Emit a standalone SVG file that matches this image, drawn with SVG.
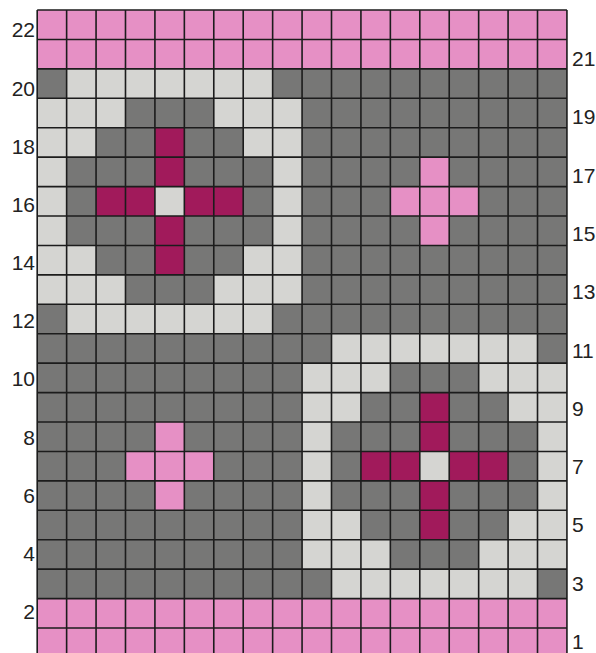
<svg xmlns="http://www.w3.org/2000/svg" xmlns:xlink="http://www.w3.org/1999/xlink" width="596" height="653" viewBox="0 0 596 653">
<style>
.pk{fill:#E690C5}
.dk{fill:#777776}
.lt{fill:#D5D5D2}
.mg{fill:#A11A5B}
.grid{fill:none;stroke:#1c1c1c;stroke-width:1.6}
.lbl{font-family:"Liberation Sans",Arial,sans-serif;font-size:21px;fill:#222}
.l{text-anchor:end}
</style>
<defs>
<g id="motif">
<g class="lt">
<rect x="1" y="0" width="7" height="1"/>
<rect x="0" y="1" width="3" height="1"/><rect x="6" y="1" width="3" height="1"/>
<rect x="0" y="2" width="2" height="1"/><rect x="7" y="2" width="2" height="1"/>
<rect x="0" y="3" width="1" height="3"/><rect x="8" y="3" width="1" height="3"/>
<rect x="4" y="4" width="1" height="1"/>
<rect x="0" y="6" width="2" height="1"/><rect x="7" y="6" width="2" height="1"/>
<rect x="0" y="7" width="3" height="1"/><rect x="6" y="7" width="3" height="1"/>
<rect x="1" y="8" width="7" height="1"/>
</g>
<g class="mg">
<rect x="4" y="2" width="1" height="2"/>
<rect x="2" y="4" width="2" height="1"/><rect x="5" y="4" width="2" height="1"/>
<rect x="4" y="5" width="1" height="2"/>
</g>
</g>
<g id="cross" class="pk">
<rect x="1" y="0" width="1" height="3"/>
<rect x="0" y="1" width="3" height="1"/>
</g>
</defs>
<rect width="596" height="653" fill="#ffffff"/>
<g id="chart" transform="translate(37.2 10) scale(29.43)">
<rect class="dk" x="0" y="0" width="18" height="22"/>
<rect class="pk" x="0" y="0" width="18" height="2"/>
<rect class="pk" x="0" y="20" width="18" height="2"/>
<use xlink:href="#motif" href="#motif" x="0" y="2"/>
<use xlink:href="#motif" href="#motif" x="9" y="11"/>
<use xlink:href="#cross" href="#cross" x="12" y="5"/>
<use xlink:href="#cross" href="#cross" x="3" y="14"/>
<path class="grid" vector-effect="non-scaling-stroke" d="M0 0V22M1 0V22M2 0V22M3 0V22M4 0V22M5 0V22M6 0V22M7 0V22M8 0V22M9 0V22M10 0V22M11 0V22M12 0V22M13 0V22M14 0V22M15 0V22M16 0V22M17 0V22M18 0V22M0 0H18M0 1H18M0 2H18M0 3H18M0 4H18M0 5H18M0 6H18M0 7H18M0 8H18M0 9H18M0 10H18M0 11H18M0 12H18M0 13H18M0 14H18M0 15H18M0 16H18M0 17H18M0 18H18M0 19H18M0 20H18M0 21H18M0 22H18"/>
</g>
<g id="labels-left" class="lbl l">
<text x="35" y="37.3">22</text>
<text x="35" y="95.5">20</text>
<text x="35" y="153.6">18</text>
<text x="35" y="211.8">16</text>
<text x="35" y="270">14</text>
<text x="35" y="328.2">12</text>
<text x="35" y="386.3">10</text>
<text x="35" y="444.5">8</text>
<text x="35" y="502.7">6</text>
<text x="35" y="560.8">4</text>
<text x="35" y="619">2</text>
</g>
<g id="labels-right" class="lbl">
<text x="572" y="66">21</text>
<text x="572" y="124.3">19</text>
<text x="572" y="182.6">17</text>
<text x="572" y="240.9">15</text>
<text x="572" y="299.2">13</text>
<text x="572" y="357.5">11</text>
<text x="572" y="415.8">9</text>
<text x="572" y="474.1">7</text>
<text x="572" y="532.4">5</text>
<text x="572" y="590.7">3</text>
<text x="572" y="649">1</text>
</g>
</svg>
